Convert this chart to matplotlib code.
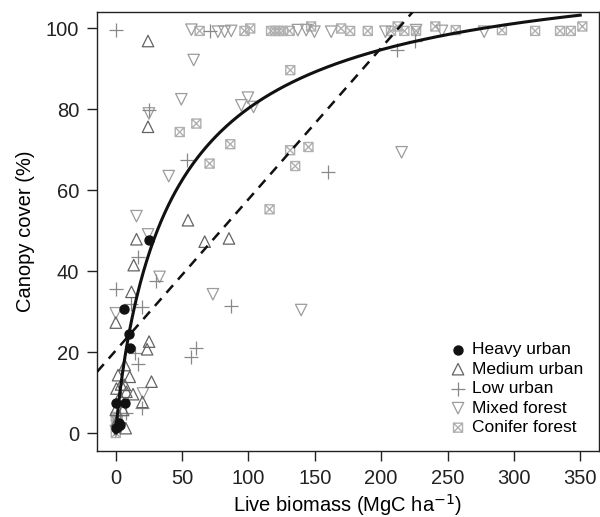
import numpy as np
import matplotlib
matplotlib.use("Agg")
import matplotlib.pyplot as plt
from matplotlib.path import Path

plt.rcParams['font.family'] = ['Liberation Sans', 'DejaVu Sans']

# ---- data ----
heavy_x = [25, 6.3, 9.8, 11, 0, 6.8, 2.5, 0.5, 3.5]
heavy_y = [47.7, 30.6, 24.4, 20.9, 7.5, 7.5, 2.5, 1.2, 2.0]

medium_x = [24.3, 24.3, 54.4, 15.6, 67, 85.3, 13.5, 11.8, 0, 25.1, 23.6, 6.8, 10.5,
            26.9, 0.5, 13, 8, 20.1, 0, 7.5, 5.5, 1.7, 6.8, 3, 1, 4]
medium_y = [96.9, 75.7, 52.6, 47.9, 47.3, 48.1, 41.5, 34.9, 27.3, 22.6, 20.7, 16.8, 13.9,
            12.7, 11, 9.6, 10.2, 7.7, 5.7, 1.2, 5.7, 14.3, 11.9, 9, 3, 12]

low_x = [0, 70.7, 211.9, 225.7, 25, 53.9, 159.8, 16.8, 30, 0.5, 11.8, 20.1, 87,
         14.3, 16.8, 60.2, 56.4, 20.1, 8, 3]
low_y = [99.6, 99.4, 94.8, 96.9, 79.8, 67.5, 64.4, 43.4, 37.5, 35.7, 32, 31.2, 31.4,
         19.7, 17, 21.1, 18.9, 6.3, 4.9, 5]

mixed_x = [57, 77, 82, 87, 137.2, 143.5, 149.7, 162.3, 203.2, 226.3, 245.8, 277.6,
           58.7, 49.4, 25, 99.6, 94.6, 103.8, 39.9, 215.4, 15.6, 24.3, 33, 0, 73.2,
           139.7, 20.5, 0, 1]
mixed_y = [99.7, 99.2, 99.2, 99.4, 99.6, 99.6, 99.2, 99.2, 99.2, 99.6, 99.4, 99.2,
           92.2, 82.5, 79, 82.9, 81, 80.6, 63.5, 69.4, 53.6, 49.1, 38.6, 29.6, 34.3,
           30.4, 9.8, 0.5, 3]

conifer_x = [63.2, 97, 101.3, 117, 120, 123, 126, 131, 147.2, 169.8, 176.6, 189.9,
             207.4, 212.4, 217.5, 226.3, 240.8, 256.2, 291, 316, 334.8, 342.9, 351.6,
             131.5, 48.2, 60.7, 86.3, 70.7, 131.4, 145.2, 135.2, 115.9, 0, 0.5, 1.5, 0]
conifer_y = [99.4, 99.4, 100, 99.4, 99.4, 99.4, 99.4, 99.4, 100.5, 100, 99.4, 99.4,
             99.4, 100.5, 99.4, 99.4, 100.5, 99.6, 99.6, 99.4, 99.4, 99.4, 100.5,
             89.7, 74.4, 76.5, 71.4, 66.6, 69.9, 70.7, 66, 55.3, 0, 1.5, 3, 4]

# fitted saturating model (solid) and linear model (dashed)
hill_a, hill_b, hill_n = 120.0, 45.5, 0.893
lin_b0, lin_b1 = 20.4, 0.374

# square with a cross for the conifer symbol
box_x = Path([(-1, -1), (1, -1), (1, 1), (-1, 1), (-1, -1), (-1, -1), (1, 1), (-1, 1), (1, -1)],
             [Path.MOVETO, Path.LINETO, Path.LINETO, Path.LINETO, Path.CLOSEPOLY,
              Path.MOVETO, Path.LINETO, Path.MOVETO, Path.LINETO])

fig = plt.figure(figsize=(6.0, 5.17), dpi=100)
ax = fig.add_axes([0.162, 0.128, 0.836, 0.849])

ax.scatter(conifer_x, conifer_y, marker=box_x, s=42, facecolors='none',
           edgecolors='#b0b0b0', linewidths=1.0, label='Conifer forest', zorder=2)
ax.scatter(mixed_x, mixed_y, marker='v', s=68, facecolors='none',
           edgecolors='#9c9c9c', linewidths=0.9, label='Mixed forest', zorder=2)
ax.scatter(low_x, low_y, marker='+', s=90, color='#888888',
           linewidths=0.9, label='Low urban', zorder=2)
ax.scatter(medium_x, medium_y, marker='^', s=68, facecolors='none',
           edgecolors='#636363', linewidths=0.9, label='Medium urban', zorder=2)
ax.scatter(heavy_x, heavy_y, marker='o', s=42, color='#111111',
           label='Heavy urban', zorder=3)

xs = np.linspace(0, 350, 400)
ax.plot(xs, hill_a * xs**hill_n / (hill_b**hill_n + xs**hill_n),
        color='#111111', lw=2.2, zorder=4)
ax.axline((0, lin_b0), slope=lin_b1, color='#111111', lw=1.8,
          ls=(0, (4, 3)), zorder=4)

ax.set_xlim(-14, 364)
ax.set_ylim(-4.4, 104.1)
ax.set_xticks(np.arange(0, 351, 50))
ax.set_yticks(np.arange(0, 101, 20))
ax.tick_params(direction='out', length=7, width=1, labelsize=14.5, pad=6,
               colors='#222222')
for sp in ax.spines.values():
    sp.set_linewidth(1)
    sp.set_color('#222222')

ax.set_xlabel('Live biomass (MgC ha$^{-1}$)', fontsize=14.5, labelpad=3)
ax.set_ylabel('Canopy cover (%)', fontsize=14.5, labelpad=8)

handles, labels = ax.get_legend_handles_labels()
order = [4, 3, 2, 1, 0]
ax.legend([handles[i] for i in order], [labels[i] for i in order],
          loc='lower right', bbox_to_anchor=(1.0, 0.0), frameon=False,
          fontsize=12.5, handletextpad=0.2, labelspacing=0.25,
          handlelength=1.2, borderaxespad=0.5, scatterpoints=1)

fig.savefig('out.png', dpi=100)
